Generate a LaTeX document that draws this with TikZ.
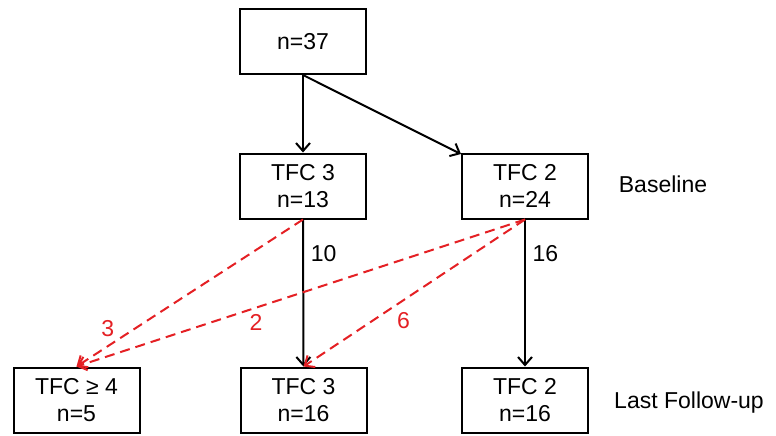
\documentclass[tikz,border=0pt]{standalone}
\usepackage{fontspec}
\setmainfont{Liberation Sans}
\usepackage{tikz}
\usetikzlibrary{arrows.meta}
\usetikzlibrary{positioning}

\definecolor{dashRed}{RGB}{228,32,36}

\begin{document}
\begin{tikzpicture}[x=0.5pt, y=-0.5pt,
font=\fontsize{11.5}{13.5}\selectfont,
box/.style = {rectangle, draw=black, line width=1pt, minimum width=63pt, minimum height=32.5pt, inner sep=0pt, align=center},
flow/.style = {line width=1pt, -{Straight Barb[length=4pt,width=7pt]}},
flowBlack/.style = {flow, draw=black},
labelBlack/.style = {black},
flowRed/.style = {flow, draw=dashRed, dash pattern=on 5pt off 3pt},
labelRed/.style = {dashRed, inner sep=1pt}]
\useasboundingbox (0,0) rectangle (776,435);
\node[box] (T) at (303,41.5) {n=37};
\node[box] (B3) at (303,186) {TFC 3\\n=13};
\node[box] (B2) at (525,186) {TFC 2\\n=24};
\node[box] (F4) at (76.5,400) {TFC ≥ 4\\n=5};
\node[box] (F3) at (303.5,400) {TFC 3\\n=16};
\node[box] (F2) at (525,400) {TFC 2\\n=16};
\node (baseline) at (663,184) {Baseline};
\node (lastfu) at (689,403) {Last Follow-up};

\draw[flowBlack] (T) to (B3);
\draw[flowBlack] (T.south) to (B2);
\draw[flowBlack] (B3) to node[labelBlack, auto, pos=0.23] {10} (F3);
\draw[flowBlack] (B2) to node[labelBlack, auto, pos=0.23] {16} (F2);

\draw[flowRed] (B3.south) to node[labelRed, anchor=south east, pos=0.82] {3} (F4.north);
\draw[flowRed] (B2.south) to node[labelRed, anchor=north, inner sep=3pt, pos=0.6] {2} (F4.north);
\draw[flowRed] (B2.south) to node[labelRed, anchor=north west, inner sep=2pt, pos=0.6] {6} (F3.north);

\end{tikzpicture}
\end{document}
